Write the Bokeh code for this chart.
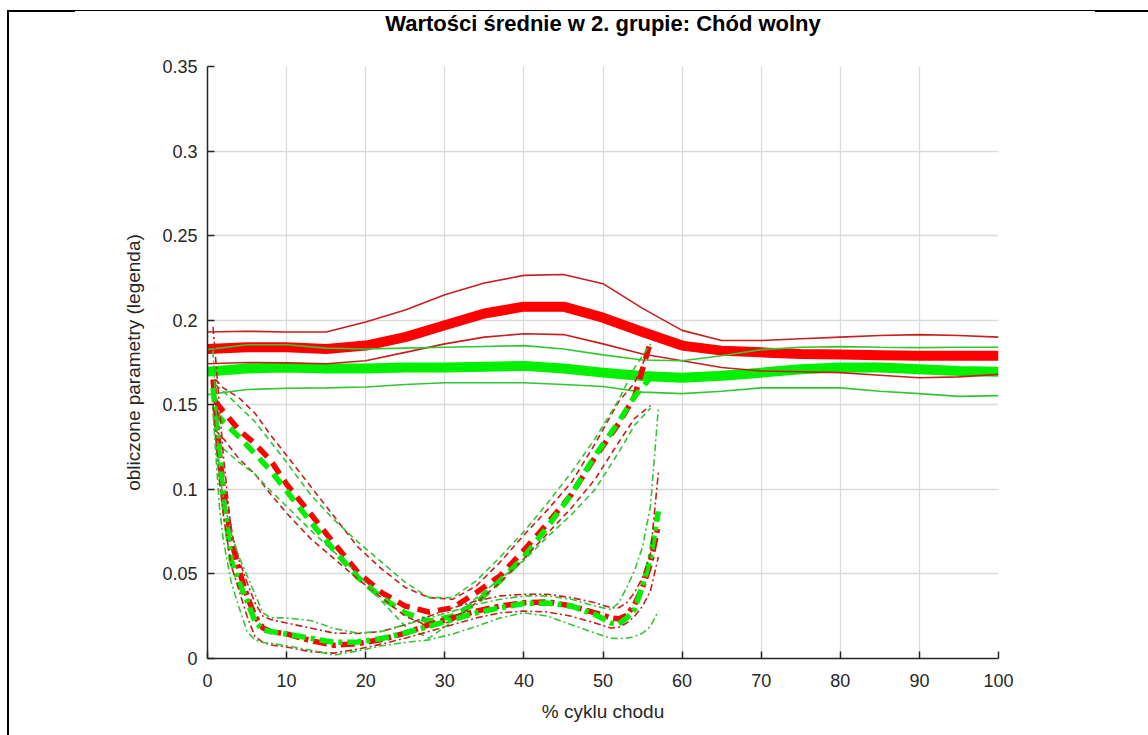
from bokeh.plotting import figure
from bokeh.models import Range1d, FixedTicker, InlineStyleSheet, Title
from bokeh.embed import file_html
from bokeh.resources import INLINE

# ---------------- texts ----------------
title_text = "Wartości średnie w 2. grupie: Chód wolny"
x_label = "% cyklu chodu"
y_label = "obliczone parametry (legenda)"

x_ticks = [0, 10, 20, 30, 40, 50, 60, 70, 80, 90, 100]
y_ticks = [0, 0.05, 0.1, 0.15, 0.2, 0.25, 0.3, 0.35]
y_tick_labels = ["0", "0.05", "0.1", "0.15", "0.2", "0.25", "0.3", "0.35"]

# ---------------- solid curves (whole cycle) ----------------
x_full = [0, 5, 10, 15, 20, 25, 30, 35, 40, 45, 50, 55, 60, 65, 70, 75, 80, 85, 90, 95, 100]
red_full_mean = [0.183, 0.184, 0.184, 0.183, 0.185, 0.190, 0.197, 0.204, 0.208, 0.208, 0.2015, 0.193,
                 0.185, 0.182, 0.181, 0.180, 0.1797, 0.1793, 0.179, 0.179, 0.179]
red_full_upper = [0.193, 0.1935, 0.193, 0.193, 0.199, 0.206, 0.215, 0.222, 0.2265, 0.227, 0.2216, 0.207,
                  0.194, 0.188, 0.188, 0.189, 0.190, 0.191, 0.1915, 0.191, 0.190]
red_full_lower = [0.1743, 0.175, 0.1748, 0.1743, 0.176, 0.181, 0.186, 0.190, 0.192, 0.1915, 0.186, 0.180,
                  0.176, 0.172, 0.170, 0.1695, 0.169, 0.1675, 0.166, 0.1665, 0.168]
green_full_mean = [0.1696, 0.1715, 0.172, 0.1715, 0.1715, 0.172, 0.172, 0.1725, 0.173, 0.1715, 0.169, 0.167,
                   0.166, 0.1672, 0.169, 0.171, 0.172, 0.172, 0.171, 0.170, 0.1696]
green_full_upper = [0.1826, 0.1855, 0.1855, 0.1835, 0.183, 0.1835, 0.184, 0.1845, 0.185, 0.183, 0.1795, 0.1765,
                    0.176, 0.179, 0.1826, 0.184, 0.1844, 0.184, 0.1838, 0.184, 0.184]
green_full_lower = [0.156, 0.159, 0.1598, 0.160, 0.1605, 0.162, 0.163, 0.163, 0.163, 0.162, 0.1608, 0.1575,
                    0.1566, 0.158, 0.160, 0.160, 0.160, 0.158, 0.1566, 0.155, 0.1554]

# ---------------- dashed curves (V shape) ----------------
x_v = [1, 2, 4, 6, 8, 10, 13, 16, 19, 22, 25, 28, 31, 34, 37, 40, 43, 46, 49, 52, 54, 56]
red_v_mean = [0.152, 0.146, 0.135, 0.127, 0.117, 0.103, 0.0857, 0.068, 0.051, 0.039, 0.031, 0.0275,
              0.030, 0.039, 0.049, 0.064, 0.080, 0.097, 0.119, 0.139, 0.155, 0.187]
red_v_upper = [0.165, 0.160, 0.154, 0.145, 0.132, 0.120, 0.102, 0.084, 0.066, 0.053, 0.042, 0.036,
               0.035, 0.043, 0.057, 0.073, 0.088, 0.104, 0.127, 0.152, 0.163, 0.185]
red_v_lower = [0.135, 0.130, 0.118, 0.109, 0.097, 0.086, 0.071, 0.059, 0.047, 0.036, 0.025, 0.019,
               0.022, 0.033, 0.045, 0.059, 0.074, 0.089, 0.106, 0.128, 0.142, 0.1495]
green_v_mean = [0.145, 0.140, 0.131, 0.121, 0.111, 0.099, 0.081, 0.064, 0.048, 0.036, 0.027, 0.022,
                0.025, 0.033, 0.046, 0.060, 0.078, 0.097, 0.120, 0.140, 0.155, 0.166]
green_v_upper = [0.162, 0.158, 0.149, 0.140, 0.128, 0.116, 0.097, 0.082, 0.069, 0.057, 0.045, 0.036,
                 0.036, 0.046, 0.060, 0.075, 0.092, 0.110, 0.130, 0.153, 0.172, 0.186]
green_v_lower = [0.128, 0.124, 0.116, 0.109, 0.099, 0.090, 0.076, 0.063, 0.050, 0.034, 0.019, 0.012,
                 0.022, 0.036, 0.047, 0.058, 0.072, 0.085, 0.100, 0.122, 0.138, 0.148]

# ---------------- dash-dot curves (U shape) ----------------
x_u = [0.7, 1.5, 2, 3, 4, 5, 6, 7, 8, 10, 13, 16, 19, 22, 25, 28, 31, 34, 37, 40, 43, 46, 49,
       51, 52, 53, 54, 55, 56, 57]
red_u_mean = [0.165, 0.122, 0.100, 0.070, 0.052, 0.037, 0.025, 0.018, 0.016, 0.0145, 0.0106, 0.0078,
              0.0088, 0.0112, 0.015, 0.020, 0.024, 0.028, 0.031, 0.033, 0.0335, 0.031, 0.027,
              0.024, 0.0235, 0.0255, 0.032, 0.042, 0.056, 0.079]
red_u_upper = [0.196, 0.150, 0.120, 0.075, 0.058, 0.045, 0.033, 0.025, 0.023, 0.021, 0.018, 0.015,
               0.0148, 0.016, 0.020, 0.025, 0.030, 0.034, 0.037, 0.038, 0.038, 0.036, 0.033,
               0.030, 0.030, 0.033, 0.039, 0.048, 0.062, 0.110]
red_u_lower = [0.150, 0.105, 0.085, 0.055, 0.040, 0.025, 0.013, 0.0095, 0.008, 0.0068, 0.004, 0.0032,
               0.0055, 0.0085, 0.012, 0.016, 0.020, 0.024, 0.027, 0.028, 0.0275, 0.025, 0.021,
               0.018, 0.0185, 0.021, 0.025, 0.031, 0.040, 0.060]
green_u_mean = [0.160, 0.120, 0.095, 0.058, 0.045, 0.034, 0.022, 0.017, 0.016, 0.0145, 0.012, 0.0095,
                0.0098, 0.0118, 0.015, 0.019, 0.023, 0.027, 0.030, 0.0325, 0.0328, 0.031, 0.026,
                0.021, 0.0205, 0.024, 0.029, 0.043, 0.060, 0.087]
green_u_upper = [0.182, 0.110, 0.095, 0.074, 0.060, 0.049, 0.038, 0.027, 0.024, 0.024, 0.0225, 0.0177,
                 0.015, 0.016, 0.020, 0.024, 0.028, 0.032, 0.035, 0.037, 0.037, 0.035, 0.031,
                 0.029, 0.033, 0.042, 0.052, 0.066, 0.090, 0.148]
green_u_lower = [0.145, 0.090, 0.070, 0.045, 0.030, 0.016, 0.011, 0.0095, 0.009, 0.0075, 0.005, 0.002,
                 0.0045, 0.0075, 0.0095, 0.011, 0.0145, 0.019, 0.024, 0.027, 0.025, 0.020, 0.015,
                 0.012, 0.0118, 0.012, 0.013, 0.015, 0.019, 0.028]

# ---------------- styling ----------------
RED = "#FF0000"
RED_THIN = "#C81E1E"
GREEN = "#00F000"
GREEN_THIN = "#33C633"
FONT = "Liberation Sans"
TXT = "#262626"

# page frame decoration of the original figure image (top and left border)
frame_css = InlineStyleSheet(css="""
:host::before {
  content: ""; position: absolute; left: 7px; top: 10px; width: 2px; height: 725px;
  background: #000; z-index: 1000; pointer-events: none;
}
:host::after {
  content: ""; position: absolute; left: 7px; top: 10px; width: 1141px; height: 2px;
  z-index: 1000; pointer-events: none;
  background:
    linear-gradient(to right, #000 0px, #000 68px, transparent 68px, transparent 1088px, #000 1088px, #000 1141px),
    linear-gradient(to bottom, #000 0px, #000 1px, transparent 1px, transparent 2px);
}
""")

p = figure(width=1148, height=735, output_backend="svg", toolbar_location=None,
           x_range=Range1d(0, 100), y_range=Range1d(0, 0.35),
           min_border_left=207, min_border_right=150, min_border_top=66, min_border_bottom=77,
           title=None)
p.stylesheets = [frame_css]
p.background_fill_color = "white"
p.border_fill_color = "white"
p.outline_line_color = None

# blank spacer title right above the frame, then the real title above it
p.add_layout(Title(text=" ", text_font=FONT, text_font_size="12px", standoff=10), "above")
p.add_layout(Title(text=title_text, align="center", vertical_align="bottom", text_font=FONT,
                   text_font_size="22px", text_font_style="bold", text_color="#000000",
                   standoff=10), "above")

xa = p.below[0]
ya = p.left[0]

for ax in (xa, ya):
    ax.axis_line_color = TXT
    ax.axis_line_width = 1.5
    ax.major_tick_line_color = TXT
    ax.major_tick_line_width = 1.5
    ax.major_tick_in = 7
    ax.major_tick_out = 0
    ax.minor_tick_line_color = None
    ax.major_label_text_font = FONT
    ax.major_label_text_font_size = "18px"
    ax.major_label_text_color = TXT
    ax.axis_label_text_font = FONT
    ax.axis_label_text_font_size = "19px"
    ax.axis_label_text_font_style = "normal"
    ax.axis_label_text_color = TXT

xa.ticker = FixedTicker(ticks=x_ticks)
ya.ticker = FixedTicker(ticks=y_ticks)
ya.major_label_overrides = {t: l for t, l in zip(y_ticks, y_tick_labels)}
xa.axis_label = x_label
ya.axis_label = y_label
xa.major_label_standoff = 15
xa.axis_label_standoff = 11
ya.major_label_standoff = 10
ya.axis_label_standoff = 15

for g in (p.xgrid[0], p.ygrid[0]):
    g.grid_line_color = "#DADADA"
    g.grid_line_width = 1.3

# solid
p.line(x_full, red_full_mean, line_color=RED, line_width=10, line_join="round")
p.line(x_full, green_full_mean, line_color=GREEN, line_width=10, line_join="round")
p.line(x_full, red_full_upper, line_color=RED_THIN, line_width=1.6)
p.line(x_full, red_full_lower, line_color=RED_THIN, line_width=1.6)
p.line(x_full, green_full_upper, line_color=GREEN_THIN, line_width=1.6)
p.line(x_full, green_full_lower, line_color=GREEN_THIN, line_width=1.6)

# dashed
p.line(x_v, red_v_mean, line_color=RED, line_width=5.5, line_dash="13 8")
p.line(x_v, green_v_mean, line_color=GREEN, line_width=5.5, line_dash="13 8")
p.line(x_v, red_v_upper, line_color=RED_THIN, line_width=1.6, line_dash="6 4")
p.line(x_v, red_v_lower, line_color=RED_THIN, line_width=1.6, line_dash="6 4")
p.line(x_v, green_v_upper, line_color=GREEN_THIN, line_width=1.6, line_dash="6 4")
p.line(x_v, green_v_lower, line_color=GREEN_THIN, line_width=1.6, line_dash="6 4")

# dash-dot
p.line(x_u, red_u_mean, line_color=RED, line_width=5.5, line_dash="14 5 4 5", line_join="round")
p.line(x_u, green_u_mean, line_color=GREEN, line_width=5.5, line_dash="14 5 4 5", line_join="round")
p.line(x_u, red_u_upper, line_color=RED_THIN, line_width=1.6, line_dash="7 3 2 3")
p.line(x_u, red_u_lower, line_color=RED_THIN, line_width=1.6, line_dash="7 3 2 3")
p.line(x_u, green_u_upper, line_color=GREEN_THIN, line_width=1.6, line_dash="7 3 2 3")
p.line(x_u, green_u_lower, line_color=GREEN_THIN, line_width=1.6, line_dash="7 3 2 3")

open("out.html", "w").write(file_html(p, INLINE))
